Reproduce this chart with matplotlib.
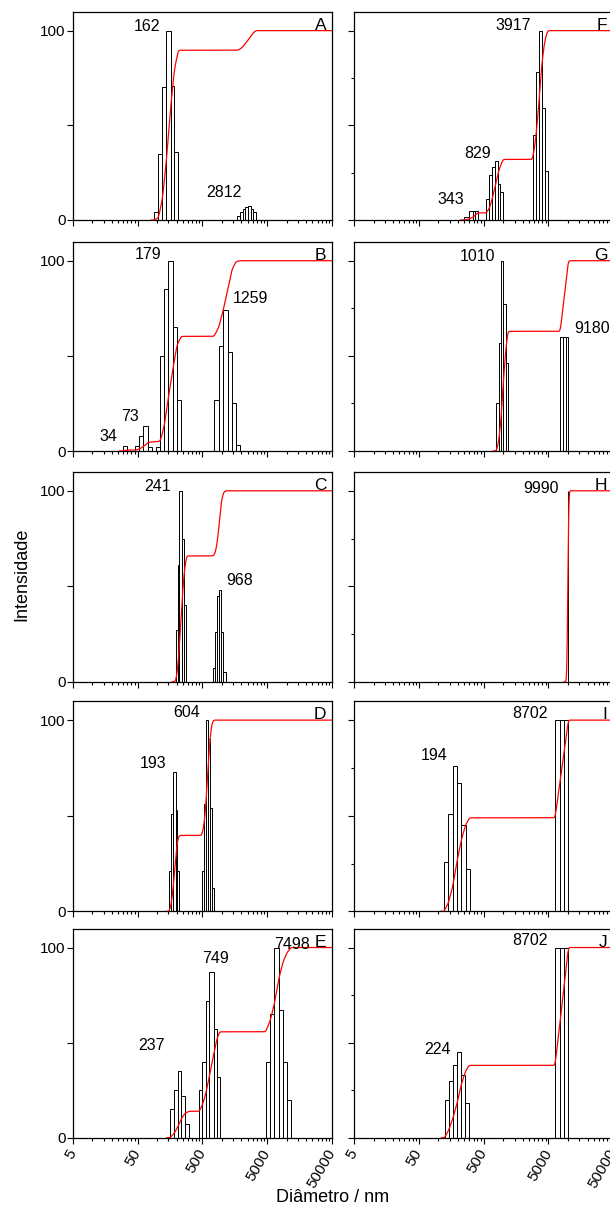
import numpy as np
import matplotlib.pyplot as plt
from matplotlib.ticker import FixedLocator, NullFormatter

plt.rcParams['font.family'] = ['Liberation Sans', 'DejaVu Sans']

# size classes: upper edge of each bin (nm) and scattered intensity (%)
a_d = [105, 121, 139, 162, 185, 213, 1900, 2088, 2295, 2522, 2812, 3049, 3351]
a_i = [4, 35, 70, 100, 71, 36, 2, 4, 6, 7, 7.5, 6, 4]
a_pk = [162, 2812]

b_d = [34, 53, 61, 73, 84, 112, 130, 149, 179, 203, 237, 891, 1051, 1259, 1430, 1648, 1900]
b_i = [2.8, 2.8, 8, 13, 2, 2, 50, 85, 100, 65, 27, 27, 55, 74, 52, 25, 3]
b_pk = [34, 73, 179, 1259]

c_d = [207, 222, 241, 262, 284, 791, 850, 912, 968, 1051, 1142]
c_i = [27, 61, 100, 75, 40, 7, 26, 45, 48, 26, 5]
c_pk = [241, 968]

d_d = [166, 178, 193, 203, 218, 523, 562, 604, 647, 695, 746]
d_i = [21, 51, 73, 53, 21, 21, 56, 100, 90, 54, 12]
d_pk = [193, 604]

e_d = [181, 207, 237, 272, 313, 500, 560, 640, 749, 830, 920, 5500, 6400, 7498, 8700, 10100, 11700]
e_i = [15, 25, 35, 22, 7, 25, 40, 72, 87, 57, 32, 40, 65, 100, 67, 40, 20]
e_pk = [237, 749, 7498]

f_d = [292, 343, 371, 403, 612, 682, 750, 829, 908, 999, 3159, 3516, 3917, 4359, 4853]
f_i = [1.8, 5, 5, 5, 11, 24, 28, 31, 19, 15, 45, 78, 100, 59, 26]
f_pk = [343, 829, 3917]

g_d = [855, 929, 1010, 1099, 1180, 8350, 9180, 10110]
g_i = [25, 57, 100, 77, 46, 60, 60, 60]
g_pk = [1010, 9180]

h_d = [9990]
h_i = [100]
h_pk = [9990]

i_d = [143, 167, 194, 227, 263, 303, 7413, 8702, 10110]
i_i = [26, 51, 76, 67, 45, 22, 100, 100, 100]
i_pk = [194, 8702]

j_d = [145, 168, 195, 224, 258, 296, 7413, 8702, 10110]
j_i = [20, 30, 38, 45, 33, 18, 100, 100, 100]
j_pk = [224, 8702]

panels = [
    ('A', a_d, a_i, a_pk), ('B', b_d, b_i, b_pk), ('C', c_d, c_i, c_pk),
    ('D', d_d, d_i, d_pk), ('E', e_d, e_i, e_pk), ('F', f_d, f_i, f_pk),
    ('G', g_d, g_i, g_pk), ('H', h_d, h_i, h_pk), ('I', i_d, i_i, i_pk),
    ('J', j_d, j_i, j_pk),
]

# where each peak value is written (x in nm, y in %)
lab_xy = {
    'A': [(69, 100), (1064, 12)],
    'B': [(18, 5.4), (38.7, 16), (71.6, 101), (2741, 77.6)],
    'C': [(103.5, 100), (1900, 50.6)],
    'D': [(85.5, 75), (290, 101.6)],
    'E': [(83, 46), (800, 92), (11900, 99)],
    'F': [(153.5, 8.4), (399, 33), (1429, 100.4)],
    'G': [(404, 100), (23600, 62)],
    'H': [(3892, 99)],
    'I': [(86.5, 79), (2594, 101.2)],
    'J': [(98, 44), (2594, 101.2)],
}
solo_w = {'H': 0.004}


def bin_edges(d, solo):
    lg = np.log10(d)
    lo = np.empty_like(lg)
    for k in range(len(lg)):
        if k > 0 and lg[k] - lg[k - 1] < 0.09:
            lo[k] = lg[k - 1]
        elif k < len(lg) - 1 and lg[k + 1] - lg[k] < 0.09:
            lo[k] = 2 * lg[k] - lg[k + 1]
        else:
            lo[k] = lg[k] - solo
    return lo, lg


def cumulative(lo, hi, h):
    g = np.linspace(lo.min() - 0.05, np.log10(50000), 3000)
    c = np.zeros_like(g)
    for a, b, w in zip(lo, hi, h):
        c += w * np.clip((g - a) / (b - a), 0, 1)
    c = 100 * c / np.sum(h)
    sig = 0.012 / (g[1] - g[0])
    n = int(4 * sig)
    k = np.arange(-n, n + 1)
    ker = np.exp(-0.5 * (k / sig) ** 2)
    ker /= ker.sum()
    cs = np.convolve(np.pad(c, n, mode='edge'), ker, mode='valid')
    return 10 ** g, cs


W, H = 610, 1209
fig = plt.figure(figsize=(W / 100, H / 100), dpi=100)

rows = [(11.7, 220), (241.7, 451), (471.7, 681.7), (701, 911.3), (928.5, 1137.7)]
cols = [72.7, 354]
axw = 259.3

majors = [5, 50, 500, 5000, 50000]
minors = [k * m for m in [5, 50, 500, 5000] for k in range(2, 10)]

for n, (name, d, inten, pk) in enumerate(panels):
    col, row = divmod(n, 5)
    top, bot = rows[row]
    ax = fig.add_axes([cols[col] / W, 1 - bot / H, axw / W, (bot - top) / H])
    lo, hi = bin_edges(d, solo_w.get(name, 0.062))
    ax.bar(10 ** lo, inten, width=10 ** hi - 10 ** lo, align='edge',
           facecolor='white', edgecolor='black', linewidth=0.7, zorder=2)
    cx, cy = cumulative(lo, hi, inten)
    ax.plot(cx, cy, color='red', lw=0.9, zorder=3)

    for v, (tx, ty) in zip(pk, lab_xy[name]):
        ax.text(tx, ty, str(v), ha='center', va='baseline', fontsize=11.5)
    ax.text(0.978, 100.5, name, transform=ax.get_yaxis_transform(),
            ha='right', va='baseline', fontsize=12.5)

    ax.set_xscale('log')
    ax.set_xlim(5, 50000)
    ax.set_ylim(0, 110)
    ax.xaxis.set_major_locator(FixedLocator(majors))
    ax.xaxis.set_minor_locator(FixedLocator(minors))
    ax.xaxis.set_minor_formatter(NullFormatter())
    if row == 4:
        ax.set_xticklabels([str(m) for m in majors])
        for lab in ax.get_xticklabels():
            lab.set_rotation(60)
            lab.set_ha('right')
            lab.set_va('center')
            lab.set_rotation_mode('anchor')
    else:
        ax.set_xticklabels([])

    ax.set_yticks([0, 50, 100])
    if col == 0:
        ax.set_yticklabels(['0', '', '100'])
    else:
        ax.set_yticklabels([])
        ax.yaxis.set_minor_locator(FixedLocator([25, 75]))

    ax.tick_params(which='major', direction='out', length=4, width=0.8,
                   labelsize=11, pad=1)
    ax.tick_params(which='minor', direction='out', length=2, width=0.8)
    ax.tick_params(axis='x', which='major', pad=5)
    for s in ax.spines.values():
        s.set_linewidth(0.9)

fig.text(22 / W, 1 - 574.7 / H, 'Intensidade', rotation=90, ha='center',
         va='center', fontsize=13)
fig.text(333 / W, 1 - 1198 / H, 'Diâmetro / nm', ha='center', va='center',
         fontsize=13)

fig.savefig('out.png', dpi=100)
